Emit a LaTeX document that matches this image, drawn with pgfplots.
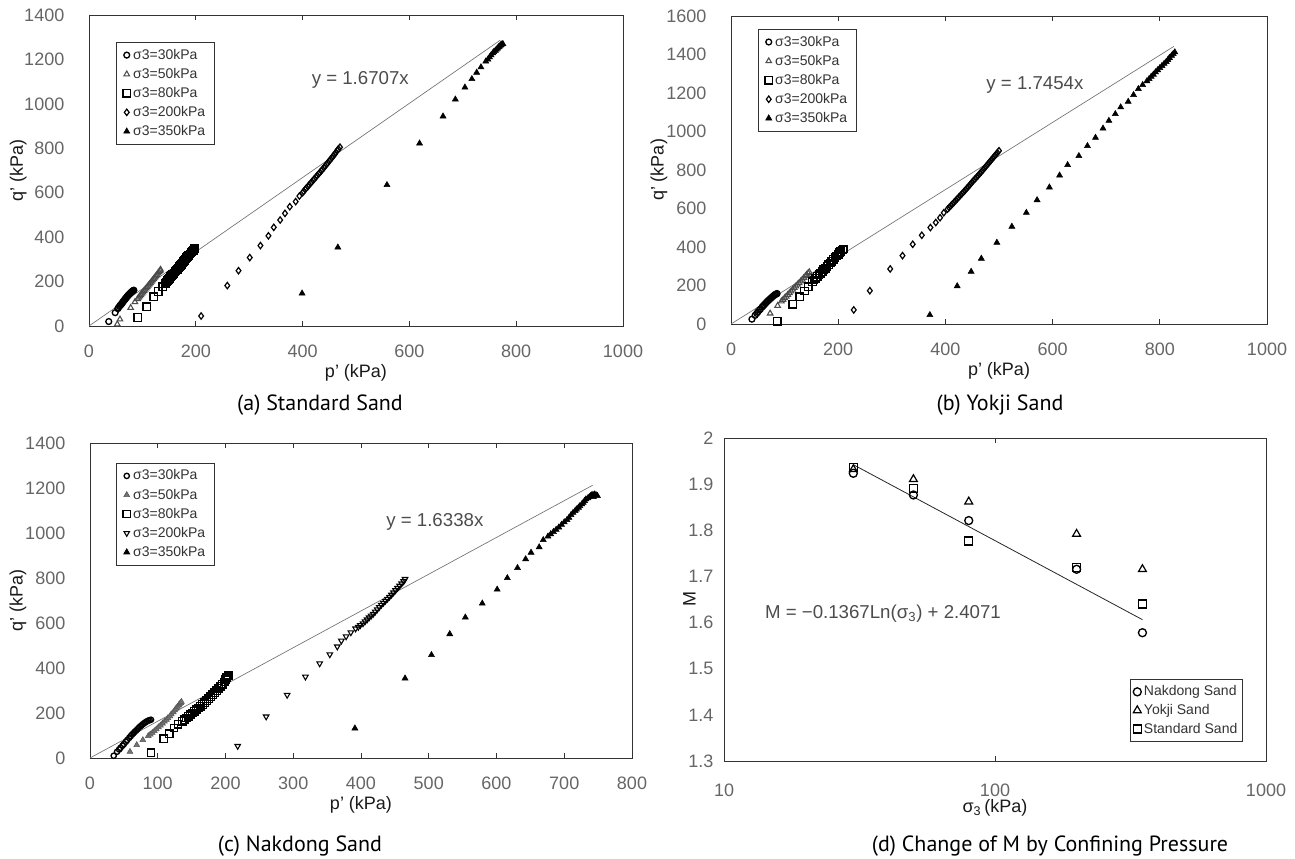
\documentclass[border=0pt]{standalone}
\usepackage{fontspec}
\setmainfont{Liberation Sans}
\newfontfamily\capfont{PT Sans}
\usepackage{pgfplots}
\pgfplotsset{compat=1.18}
\tikzset{eqn/.style={font=\fontsize{14}{16}\selectfont, text=black!70}}
\pgfplotsset{
  myax/.style={
    scale only axis,
    axis line style={black!80,line width=0.6pt},
    tick align=inside,
    ytick style={draw=none},
    xtick style={black!80,line width=0.5pt},
    major tick length=4pt,
    tick label style={font=\fontsize{13.5}{15}\selectfont, text=black!60},
    /pgf/number format/1000 sep={},
    /pgf/number format/assume math mode=true,
    label style={font=\fontsize{13.5}{15}\selectfont, text=black!90},
    legend cell align=left,
    legend style={draw=black!80, line width=0.5pt, font=\fontsize{10.5}{12}\selectfont, text=black!80, row sep=1.2pt, inner xsep=5pt, inner ysep=3pt, anchor=north west},
    xticklabel style={anchor=center, yshift=-18.75pt},
    yticklabel style={anchor=east, xshift=-15pt},
    xlabel style={at={(axis description cs:0.5,0)}, anchor=center, yshift=-35pt},
    ylabel style={at={(axis description cs:0,0.5)}, anchor=center},
  },
  trend/.style={black!55, line width=0.5pt, forget plot},
  s30/.style={only marks, mark=o, mark size=2.2pt, mark options={black, line width=1pt}},
  s50/.style={only marks, mark=triangle, mark size=2.4pt, mark options={black!70, line width=0.8pt}},
  s80/.style={only marks, mark=square, mark size=2.8pt, mark options={black, line width=1pt}},
  s200/.style={only marks, mark=diamond, mark size=2.4pt, mark options={black, line width=0.9pt}},
  s350/.style={only marks, mark=triangle*, mark size=2.6pt, mark options={black, fill=black}},
}
\begin{document}
\begin{tikzpicture}
\path[use as bounding box] (0,0) rectangle (971.25pt,644.25pt);

% ---------------- (a) Standard Sand
\begin{axis}[myax, at={(66.75pt,399.75pt)}, anchor=south west,
  width=400.5pt, height=233.25pt,
  xmin=0, xmax=1000, ymin=0, ymax=1400,
  xtick={0,200,...,1000}, ytick={0,200,...,1400},
  xlabel={p' (kPa)}, ylabel={q' (kPa)},
  ylabel style={yshift=53pt},
  legend style={at={(0.0506,0.913)}},
]
\addplot[trend] coordinates {(0,0) (770,1286.4)};
\addplot[s30] coordinates {(37,20)(49,60)(54,78)(55,82)(57,88)(58,92)(60,96)(61,100)(62,103)(63,106)(64,110)(65,113)(66,116)(67,119)(68,122)(69,125)(70,128)(71,131)(72,134)(73,137)(74,139)(75,142)(76,144)(77,147)(78,149)(79,152)(80,154)(81,156)(82,158)(83,160)(84,161)};
\addlegendentry{σ3=30kPa}
\addplot[s50] coordinates {(53,8)(58,30)(78,82)(86,108)(91,122)(93,128)(95,134)(97,140)(99,146)(101,152)(103,158)(105,164)(107,170)(109,176)(111,182)(113,188)(115,194)(117,200)(119,206)(121,212)(123,218)(125,224)(127,230)(129,237)(131,243)(133,249)(134,254)};
\addlegendentry{σ3=50kPa}
\addplot[s80] coordinates {(91,38)(108,87)(121,132)(130,155)(138,176)(143,192)(145,198)(147,204)(149,210)(151,215)(153,221)(155,227)(157,233)(159,238)(161,244)(163,250)(165,256)(167,261)(169,267)(171,272)(173,278)(175,284)(177,290)(179,296)(181,302)(183,307)(185,313)(187,318)(189,324)(191,330)(193,336)(195,341)(197,347)(198,350)};
\addlegendentry{σ3=80kPa}
\addplot[s200] coordinates {(210,45)(259,182)(280,249)(301,308)(321,362)(336,406)(346,444)(358,477)(367,507)(376,537)(387,560)(394,585)(400,600)(402,606)(405,615)(407,621)(410,628)(412,635)(415,642)(417,649)(420,656)(422,663)(425,670)(427,677)(430,684)(432,691)(435,698)(437,705)(440,712)(442,720)(445,727)(447,735)(450,742)(452,750)(455,757)(457,765)(460,772)(462,781)(465,790)(467,797)(470,805)};
\addlegendentry{σ3=200kPa}
\addplot[s350] coordinates {(399,147)(466,354)(558,635)(619,822)(663,944)(686,1020)(704,1074)(717,1112)(726,1141)(734,1165)(743,1191)(747,1200)(750,1210)(753,1219)(756,1228)(758,1234)(761,1240)(763,1245)(765,1250)(767,1255)(768,1258)(770,1262)(771,1265)(773,1268)(775,1270)};
\addlegendentry{σ3=350kPa}
\node[eqn] at (axis cs:508,1108) {y = 1.6707x};
\end{axis}

% ---------------- (b) Yokji Sand
\begin{axis}[myax, at={(548.25pt,401.25pt)}, anchor=south west,
  width=402pt, height=231pt,
  xmin=0, xmax=1000, ymin=0, ymax=1600,
  xtick={0,200,...,1000}, ytick={0,200,...,1600},
  xlabel={p' (kPa)}, ylabel={q' (kPa)},
  ylabel style={yshift=54pt},
  legend style={at={(0.0504,0.958)}},
]
\addplot[trend] coordinates {(0,0) (826,1441.7)};
\addplot[s30] coordinates {(39,25)(45,45)(48,55)(50,62)(53,72)(55,78)(58,88)(60,94)(62,100)(64,106)(66,112)(68,118)(70,123)(72,128)(74,133)(76,138)(78,143)(80,148)(82,152)(83,154)(85,157)(86,158)};
\addlegendentry{σ3=30kPa}
\addplot[s50] coordinates {(73,55)(87,95)(94,118)(97,126)(100,135)(103,143)(106,152)(109,161)(112,170)(115,179)(118,188)(121,196)(124,205)(127,213)(130,222)(133,231)(136,240)(139,249)(141,256)(144,264)(146,270)};
\addlegendentry{σ3=50kPa}
\addplot[s80] coordinates {(86,15)(115,102)(128,142)(137,171)(144,194)(152,220)(155,229)(158,238)(161,247)(164,256)(167,264)(170,272)(173,281)(176,290)(179,299)(182,308)(185,317)(188,326)(191,335)(194,344)(197,353)(200,362)(203,370)(205,376)(208,384)(210,390)};
\addlegendentry{σ3=80kPa}
\addplot[s200] coordinates {(229,73)(259,173)(297,286)(320,355)(339,414)(356,461)(372,501)(382,527)(390,552)(397,578)(404,597)(407,605)(410,614)(413,623)(416,632)(419,641)(422,650)(425,659)(428,668)(431,677)(434,686)(437,695)(440,705)(443,714)(446,724)(449,734)(452,744)(455,753)(458,762)(461,771)(464,781)(467,790)(470,800)(473,810)(476,820)(479,830)(482,840)(485,850)(488,860)(491,870)(494,880)(497,890)(500,900)};
\addlegendentry{σ3=200kPa}
\addplot[s350] coordinates {(371,47)(422,197)(448,272)(467,340)(496,423)(524,506)(551,578)(571,644)(594,710)(613,772)(628,826)(649,873)(665,925)(680,968)(694,1016)(705,1056)(717,1091)(727,1126)(741,1155)(751,1190)(760,1221)(768,1242)(776,1262)(780,1273)(784,1285)(788,1296)(792,1308)(796,1319)(800,1330)(804,1341)(808,1352)(812,1362)(815,1372)(818,1383)(822,1394)(825,1403)(828,1412)};
\addlegendentry{σ3=350kPa}
\node[eqn] at (axis cs:567,1242) {y = 1.7454x};
\end{axis}

% ---------------- (c) Nakdong Sand
\begin{axis}[myax, at={(67.5pt,75.75pt)}, anchor=south west,
  width=406.5pt, height=236.25pt,
  xmin=0, xmax=800, ymin=0, ymax=1400,
  xtick={0,100,...,800}, ytick={0,200,...,1400},
  xlabel={p' (kPa)}, ylabel={q' (kPa)},
  ylabel style={yshift=54pt},
  legend style={at={(0.048,0.937)}},
]
\addplot[trend] coordinates {(0,0) (742,1212.3)};
\addplot[s30, mark size=2pt] coordinates {(35,10)(40,28)(43,38)(45,45)(48,55)(50,62)(53,72)(55,80)(58,90)(60,97)(62,104)(64,110)(66,116)(68,122)(70,128)(72,134)(74,140)(76,145)(78,150)(80,155)(82,159)(84,163)(86,166)(88,168)(90,170)};
\addlegendentry{σ3=30kPa}
\addplot[only marks, mark=triangle*, mark size=2.5pt, mark options={black!65, fill=black!55}] coordinates {(59,28)(69,58)(78,80)(86,98)(89,105)(92,112)(95,120)(98,128)(101,137)(104,145)(107,154)(110,162)(113,170)(115,178)(118,186)(120,195)(123,204)(125,212)(127,220)(129,228)(131,234)(132,240)(134,245)(135,250)};
\addlegendentry{σ3=50kPa}
\addplot[s80] coordinates {(90,24)(109,86)(117,108)(124,133)(130,150)(136,163)(139,170)(142,178)(145,185)(148,192)(151,200)(154,207)(157,215)(160,222)(163,230)(166,238)(169,246)(172,255)(175,264)(178,272)(181,281)(184,290)(187,300)(190,310)(193,319)(195,328)(198,338)(200,348)(202,357)(204,366)};
\addlegendentry{σ3=80kPa}
\addplot[only marks, mark=triangle, mark size=2.4pt, mark options={black, line width=0.8pt, rotate=180}] coordinates {(218,53)(260,184)(291,280)(318,361)(339,420)(354,460)(365,495)(371,521)(378,540)(385,558)(392,575)(396,582)(399,590)(403,598)(406,607)(409,615)(412,624)(415,632)(418,640)(421,650)(424,660)(427,670)(430,680)(433,689)(436,698)(439,707)(442,716)(445,725)(448,735)(451,745)(454,755)(457,765)(460,775)(463,785)(465,795)};
\addlegendentry{σ3=200kPa}
\addplot[s350] coordinates {(391,132)(465,354)(504,458)(531,551)(554,625)(579,687)(601,749)(616,800)(631,845)(643,884)(651,913)(663,937)(669,969)(676,985)(680,995)(684,1005)(688,1015)(692,1025)(696,1037)(700,1048)(704,1058)(707,1068)(710,1080)(713,1090)(716,1098)(718,1105)(721,1113)(723,1120)(726,1128)(728,1135)(730,1143)(732,1150)(735,1155)(737,1160)(739,1165)(741,1170)(743,1168)(745,1172)(747,1168)(749,1165)(743,1160)};
\addlegendentry{σ3=350kPa}
\node[eqn] at (axis cs:509,1049) {y = 1.6338x};
\end{axis}

% ---------------- (d) M vs confining pressure
\begin{axis}[myax, xmode=log, at={(543pt,73.5pt)}, anchor=south west,
  width=406.5pt, height=242.25pt,
  xmin=10, xmax=1000, ymin=1.3, ymax=2,
  xtick={10,100,1000}, xticklabels={10,100,1000}, xminorticks=false,
  ytick={1.3,1.4,...,2.01},
  yticklabel style={/pgf/number format/fixed, /pgf/number format/precision=1, xshift=10.5pt},
  xticklabel style={yshift=-3pt},
  xlabel={σ\textsubscript{3}\,(kPa)}, ylabel={M},
  ylabel style={yshift=26pt},
  legend style={at={(0.9576,0.0588)}, anchor=south east, row sep=0.8pt, inner xsep=2pt},
]
\addplot[black!85, line width=0.6pt, forget plot] coordinates {(30,1.9422) (350,1.6063)};
\addplot[only marks, mark=o, mark size=3pt, mark options={black, line width=1pt}] coordinates {(30,1.9235)(50,1.8765)(80,1.821)(200,1.7155)(350,1.578)};
\addlegendentry{Nakdong Sand}
\addplot[only marks, mark=triangle, mark size=3.4pt, mark options={black, line width=0.9pt}] coordinates {(30,1.932)(50,1.9105)(80,1.862)(200,1.792)(350,1.7155)};
\addlegendentry{Yokji Sand}
\addplot[only marks, mark=square, mark size=3pt, mark options={black, line width=1pt}] coordinates {(30,1.936)(50,1.891)(80,1.777)(200,1.72)(350,1.640)};
\addlegendentry{Standard Sand}
\node[eqn] at (axis cs:38.6,1.6186) {M = −0.1367Ln(σ\textsubscript{3}) + 2.4071};
\end{axis}

% ---------------- captions
\node[font=\capfont\fontsize{16.5}{18}\selectfont] at (240pt,340.5pt) {(a) Standard Sand};
\node[font=\capfont\fontsize{16.5}{18}\selectfont] at (750pt,340.5pt) {(b) Yokji Sand};
\node[font=\capfont\fontsize{16.5}{18}\selectfont] at (225pt,9.75pt) {(c) Nakdong Sand};
\node[font=\capfont\fontsize{16.5}{18}\selectfont] at (787.5pt,9.75pt) {(d) Change of M by Confining Pressure};
\end{tikzpicture}
\end{document}
